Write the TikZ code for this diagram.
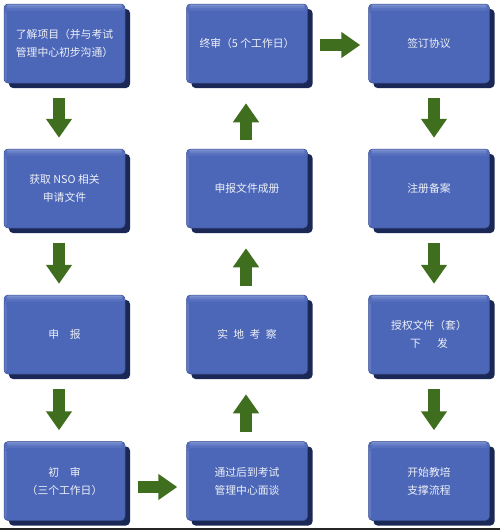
\documentclass[tikz,border=0pt]{standalone}
\usepackage{fontspec}
\newfontfamily\cjk{Noto Sans CJK SC}
\usetikzlibrary{arrows.meta,shadows}
\definecolor{boxblue}{HTML}{4C67B8}
\definecolor{boxlight}{HTML}{8A9DD8}
\definecolor{boxnavy}{HTML}{1B2856}
\definecolor{arrowgreen}{HTML}{3F6E1F}
\definecolor{txt}{HTML}{EEF1F8}
\begin{document}
\begin{tikzpicture}[x=1pt,y=-1pt,
  stepbox/.style={rounded corners=4pt, fill=boxblue, draw=boxnavy!40!boxblue, line width=0.5pt,
    minimum width=121pt, minimum height=79pt, inner sep=0pt, text=txt, align=center,
    font=\cjk\fontsize{10.8}{18}\selectfont,
    drop shadow={shadow xshift=5pt, shadow yshift=-5pt, fill=boxnavy, opacity=1},
    path picture={
      \fill[boxlight, opacity=0.75] (path picture bounding box.north west) rectangle ([yshift=-2pt]path picture bounding box.north east);
      \fill[boxlight, opacity=0.45] ([yshift=-2pt]path picture bounding box.north west) rectangle ([yshift=-4pt]path picture bounding box.north east);
      \fill[boxlight, opacity=0.2] ([yshift=-4pt]path picture bounding box.north west) rectangle ([yshift=-6.5pt]path picture bounding box.north east);
      \fill[boxlight, opacity=0.35] ([yshift=-6.5pt]path picture bounding box.north west) rectangle ([xshift=2.5pt]path picture bounding box.south west);
    }},
  flow/.style={draw=arrowgreen, line width=12pt, -{Triangle[width=25pt,length=19pt]}}
]
\useasboundingbox (0,0) rectangle (500,530);

% column 1
\node[stepbox] (a1) at (64.5,43.5) {了解项目（并与考试\\管理中心初步沟通）};
\node[stepbox] (a2) at (64.5,188.5) {获取 NSO 相关\\申请文件};
\node[stepbox] (a3) at (64.5,334.5) {申　报};
\node[stepbox] (a4) at (64.5,481) {初　审\\（三个工作日）};
% column 2
\node[stepbox] (b1) at (247,43.5) {终审（5 个工作日）};
\node[stepbox] (b2) at (247,188.5) {申报文件成册};
\node[stepbox] (b3) at (247,334.5) {实\hspace{0.5em}地\hspace{0.5em}考\hspace{0.5em}察};
\node[stepbox] (b4) at (247,481) {通过后到考试\\管理中心面谈};
% column 3
\node[stepbox] (c1) at (429,43.5) {签订协议};
\node[stepbox] (c2) at (429,188.5) {注册备案};
\node[stepbox] (c3) at (429,334.5) {授权文件（套）\\下\hspace{1.5em}发};
\node[stepbox] (c4) at (429,481) {开始教培\\支撑流程};

% column 1 arrows (down)
\draw[flow, shorten <=15pt, shorten >=11pt] ([xshift=-5.5pt]a1.south) -- ([xshift=-5.5pt]a2.north);
\draw[flow, shorten <=15pt, shorten >=11pt] ([xshift=-5.5pt]a2.south) -- ([xshift=-5.5pt]a3.north);
\draw[flow, shorten <=15pt, shorten >=11pt] ([xshift=-5.5pt]a3.south) -- ([xshift=-5.5pt]a4.north);
% row 4 arrow (right)
\draw[flow, shorten <=13pt, shorten >=9pt] ([yshift=-6pt]a4.east) -- ([yshift=-6pt]b4.west);
% column 2 arrows (up)
\draw[flow, shorten <=9pt, shorten >=20pt] ([xshift=-1pt]b4.north) -- ([xshift=-1pt]b3.south);
\draw[flow, shorten <=9pt, shorten >=20pt] ([xshift=-1pt]b3.north) -- ([xshift=-1pt]b2.south);
\draw[flow, shorten <=9pt, shorten >=20pt] ([xshift=-1pt]b2.north) -- ([xshift=-1pt]b1.south);
% row 1 arrow (right)
\draw[flow, shorten <=12pt, shorten >=8pt] ([yshift=-1.5pt]b1.east) -- ([yshift=-1.5pt]c1.west);
% column 3 arrows (down)
\draw[flow, shorten <=15pt, shorten >=11pt] ([xshift=5pt]c1.south) -- ([xshift=5pt]c2.north);
\draw[flow, shorten <=15pt, shorten >=11pt] ([xshift=5pt]c2.south) -- ([xshift=5pt]c3.north);
\draw[flow, shorten <=15pt, shorten >=11pt] ([xshift=5pt]c3.south) -- ([xshift=5pt]c4.north);

% bottom rule
\draw[line width=2pt, black!85] (0,528.5) -- (500,528.5);
\end{tikzpicture}
\end{document}
